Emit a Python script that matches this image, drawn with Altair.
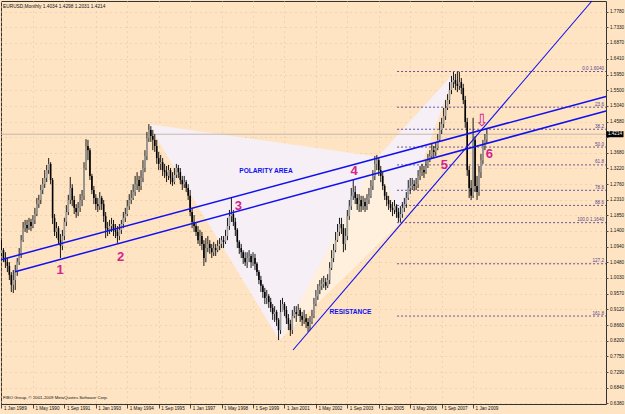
import json
import altair as alt
import pandas as pd

# ------------------------------------------------------------------ data
# monthly bars, month index 0 = Jan 1989
close = [
    1.084, 1.061, 1.049, 1.038, 1.012, 0.983, 0.997, 1.020, 1.049, 1.070,
    1.113, 1.148, 1.157, 1.148, 1.166, 1.154, 1.172, 1.189, 1.218, 1.230,
    1.259, 1.276, 1.294, 1.317, 1.335, 1.288, 1.178, 1.137, 1.148, 1.113,
    1.096, 1.125, 1.166, 1.195, 1.230, 1.265, 1.230, 1.207, 1.195, 1.207,
    1.230, 1.242, 1.323, 1.387, 1.375, 1.300, 1.259, 1.236, 1.218, 1.212,
    1.236, 1.218, 1.183, 1.148, 1.143, 1.154, 1.160, 1.143, 1.137, 1.125,
    1.143, 1.160, 1.178, 1.189, 1.212, 1.230, 1.236, 1.253, 1.276, 1.288,
    1.271, 1.294, 1.323, 1.358, 1.410, 1.434, 1.416, 1.405, 1.387, 1.352,
    1.335, 1.340, 1.317, 1.311, 1.300, 1.317, 1.294, 1.282, 1.303, 1.323,
    1.311, 1.288, 1.276, 1.282, 1.265, 1.242, 1.195, 1.166, 1.154, 1.137,
    1.113, 1.125, 1.102, 1.061, 1.090, 1.102, 1.090, 1.078, 1.090, 1.084,
    1.096, 1.102, 1.113, 1.108, 1.125, 1.154, 1.183, 1.189, 1.166, 1.143,
    1.108, 1.090, 1.078, 1.061, 1.049, 1.061, 1.067, 1.049, 1.061, 1.044,
    1.020, 0.997, 0.980, 0.962, 0.945, 0.950, 0.933, 0.916, 0.898, 0.904,
    0.881, 0.851, 0.904, 0.927, 0.910, 0.886, 0.869, 0.851, 0.892, 0.904,
    0.898, 0.910, 0.892, 0.881, 0.886, 0.875, 0.863, 0.875, 0.892, 0.927,
    0.950, 0.968, 0.980, 0.985, 0.991, 0.980, 0.997, 1.032, 1.061, 1.084,
    1.113, 1.137, 1.160, 1.148, 1.102, 1.125, 1.183, 1.212, 1.242, 1.253,
    1.236, 1.218, 1.230, 1.212, 1.224, 1.212, 1.230, 1.242, 1.271, 1.300,
    1.335, 1.346, 1.317, 1.300, 1.271, 1.242, 1.230, 1.218, 1.207, 1.201,
    1.212, 1.195, 1.178, 1.189, 1.207, 1.218, 1.236, 1.265, 1.271, 1.276,
    1.271, 1.276, 1.300, 1.311, 1.317, 1.311, 1.329, 1.346, 1.358, 1.375,
    1.370, 1.381, 1.405, 1.434, 1.451, 1.474, 1.498, 1.521, 1.550, 1.573,
    1.579, 1.568, 1.562, 1.573, 1.556, 1.521, 1.457, 1.317, 1.265, 1.242,
    1.405, 1.271, 1.253, 1.311, 1.346, 1.387, 1.405, 1.4214,
]
high = [
    1.113, 1.090, 1.078, 1.061, 1.049, 1.020, 1.026, 1.041, 1.061, 1.090,
    1.128, 1.166, 1.172, 1.172, 1.178, 1.175, 1.186, 1.207, 1.236, 1.245,
    1.274, 1.294, 1.317, 1.332, 1.352, 1.340, 1.294, 1.189, 1.166, 1.154,
    1.131, 1.143, 1.178, 1.215, 1.245, 1.297, 1.276, 1.242, 1.218, 1.224,
    1.247, 1.259, 1.340, 1.407, 1.405, 1.381, 1.306, 1.271, 1.247, 1.236,
    1.253, 1.242, 1.230, 1.195, 1.166, 1.172, 1.178, 1.172, 1.160, 1.154,
    1.160, 1.172, 1.195, 1.207, 1.230, 1.247, 1.259, 1.276, 1.300, 1.311,
    1.300, 1.317, 1.346, 1.375, 1.428, 1.451, 1.445, 1.434, 1.422, 1.405,
    1.370, 1.361, 1.352, 1.335, 1.329, 1.332, 1.323, 1.311, 1.323, 1.335,
    1.332, 1.323, 1.300, 1.300, 1.288, 1.276, 1.259, 1.207, 1.186, 1.166,
    1.154, 1.143, 1.137, 1.113, 1.119, 1.125, 1.113, 1.102, 1.108, 1.102,
    1.113, 1.119, 1.125, 1.125, 1.143, 1.178, 1.201, 1.236, 1.201, 1.178,
    1.148, 1.113, 1.102, 1.084, 1.078, 1.078, 1.084, 1.073, 1.078, 1.073,
    1.049, 1.026, 1.009, 0.985, 0.974, 0.968, 0.956, 0.945, 0.927, 0.921,
    0.910, 0.886, 0.939, 0.945, 0.933, 0.921, 0.898, 0.881, 0.910, 0.921,
    0.921, 0.927, 0.916, 0.904, 0.910, 0.898, 0.886, 0.892, 0.910, 0.945,
    0.968, 0.985, 0.997, 1.003, 1.009, 1.003, 1.014, 1.049, 1.084, 1.102,
    1.137, 1.160, 1.178, 1.178, 1.160, 1.148, 1.201, 1.230, 1.265, 1.288,
    1.271, 1.247, 1.247, 1.242, 1.242, 1.236, 1.247, 1.265, 1.288, 1.317,
    1.358, 1.361, 1.352, 1.329, 1.311, 1.276, 1.253, 1.242, 1.230, 1.224,
    1.230, 1.218, 1.207, 1.212, 1.224, 1.236, 1.253, 1.288, 1.294, 1.294,
    1.288, 1.294, 1.317, 1.329, 1.335, 1.329, 1.346, 1.364, 1.375, 1.393,
    1.387, 1.399, 1.422, 1.457, 1.469, 1.498, 1.521, 1.538, 1.573, 1.591,
    1.603, 1.597, 1.604, 1.603, 1.585, 1.568, 1.533, 1.469, 1.329, 1.288,
    1.469, 1.416, 1.300, 1.329, 1.364, 1.405, 1.422, 1.440,
]
low = [
    1.067, 1.049, 1.032, 1.020, 0.997, 0.962, 0.959, 0.968, 1.009, 1.041,
    1.061, 1.108, 1.137, 1.134, 1.143, 1.140, 1.148, 1.160, 1.183, 1.207,
    1.218, 1.247, 1.265, 1.282, 1.306, 1.276, 1.160, 1.125, 1.119, 1.102,
    1.061, 1.084, 1.113, 1.154, 1.186, 1.218, 1.212, 1.189, 1.178, 1.183,
    1.195, 1.212, 1.230, 1.317, 1.346, 1.288, 1.247, 1.218, 1.201, 1.195,
    1.201, 1.201, 1.166, 1.119, 1.125, 1.131, 1.137, 1.125, 1.119, 1.105,
    1.113, 1.131, 1.148, 1.166, 1.183, 1.201, 1.218, 1.230, 1.242, 1.259,
    1.253, 1.259, 1.282, 1.311, 1.346, 1.399, 1.399, 1.375, 1.370, 1.335,
    1.317, 1.317, 1.300, 1.294, 1.282, 1.288, 1.276, 1.271, 1.276, 1.294,
    1.294, 1.276, 1.259, 1.265, 1.253, 1.230, 1.183, 1.148, 1.137, 1.125,
    1.102, 1.096, 1.084, 1.038, 1.049, 1.078, 1.073, 1.061, 1.067, 1.067,
    1.078, 1.084, 1.090, 1.090, 1.102, 1.113, 1.143, 1.166, 1.154, 1.125,
    1.090, 1.073, 1.061, 1.044, 1.038, 1.032, 1.049, 1.032, 1.038, 1.026,
    1.009, 0.985, 0.962, 0.945, 0.927, 0.927, 0.916, 0.904, 0.881, 0.875,
    0.863, 0.822, 0.840, 0.904, 0.892, 0.869, 0.851, 0.834, 0.840, 0.886,
    0.875, 0.892, 0.875, 0.863, 0.869, 0.857, 0.846, 0.851, 0.869, 0.886,
    0.921, 0.939, 0.956, 0.968, 0.974, 0.968, 0.974, 0.985, 1.026, 1.049,
    1.078, 1.108, 1.125, 1.131, 1.078, 1.084, 1.113, 1.172, 1.201, 1.230,
    1.218, 1.201, 1.195, 1.195, 1.201, 1.195, 1.201, 1.218, 1.236, 1.259,
    1.288, 1.317, 1.300, 1.282, 1.259, 1.230, 1.212, 1.201, 1.195, 1.183,
    1.189, 1.178, 1.166, 1.164, 1.178, 1.195, 1.207, 1.230, 1.247, 1.259,
    1.259, 1.259, 1.265, 1.288, 1.300, 1.294, 1.306, 1.323, 1.340, 1.352,
    1.352, 1.358, 1.375, 1.399, 1.422, 1.440, 1.463, 1.492, 1.509, 1.538,
    1.556, 1.550, 1.544, 1.550, 1.538, 1.509, 1.440, 1.300, 1.236, 1.230,
    1.236, 1.253, 1.230, 1.242, 1.294, 1.335, 1.375, 1.393,
]
first_open = 1.075
last_price = 1.4214

x_tick_months = [0, 16, 32, 48, 64, 80, 96, 112, 128, 144, 160, 176, 192, 208, 224, 240]
x_tick_labels = ["1 Jan 1989", "1 May 1990", "1 Sep 1991", "1 Jan 1993", "1 May 1994",
                 "1 Sep 1995", "1 Jan 1997", "1 May 1998", "1 Sep 1999", "1 Jan 2001",
                 "1 May 2002", "1 Sep 2003", "1 Jan 2005", "1 May 2006", "1 Sep 2007",
                 "1 Jan 2009"]
y_tick_values = [1.7780, 1.7330, 1.6870, 1.6410, 1.5950, 1.5500, 1.5040, 1.4580, 1.4130,
                 1.3680, 1.3220, 1.2760, 1.2310, 1.1850, 1.1400, 1.0940, 1.0480, 1.0030,
                 0.9570, 0.9120, 0.8660, 0.8200, 0.7750, 0.7290, 0.6840, 0.6380]
y_hidden_label = 1.4130  # sits behind the current-price box

fib_levels = [0.0, 23.6, 38.2, 50.0, 61.8, 78.6, 88.6, 100.0, 127.2, 161.8]
fib_labels = ["0.0  1.6040", "23.6", "38.2", "50.0", "61.8", "78.6", "88.6",
              "100.0  1.1640", "127.2", "161.8"]
fib_top = 1.6040
fib_bottom = 1.1640
fib_start_month = 201.3

# harmonic pattern points (month index, price)
pt_X = (74.5, 1.451)
pt_A = (141.5, 0.822)
pt_B = (191.5, 1.356)
pt_C = (203.0, 1.164)
pt_D = (231.0, 1.604)

# trend lines: start month, start price, end month, end price, width
trend_m1 = [-0.25, 6.87, 148.35]
trend_p1 = [1.0561, 1.0212, 0.7933]
trend_m2 = [307.63, 307.63, 300.46]
trend_p2 = [1.5312, 1.4890, 1.8092]
trend_w = [1.5, 1.5, 1.1]

ann_text = ["1", "2", "3", "4", "5", "6"]
ann_m = [29.8, 60.6, 120.5, 179.5, 225.4, 248.3]
ann_p = [1.026, 1.065, 1.212, 1.313, 1.332, 1.364]
arrow_m, arrow_p = 244.5, 1.460

label_text = ["POLARITY AREA", "RESISTANCE"]
label_m = [134.6, 177.6]
label_p = [1.3143, 0.9025]

title_text = "EURUSD,Monthly  1.4034 1.4298 1.2031 1.4214"
copyright_text = "FIBO Group, \u00a9 2001-2009 MetaQuotes Software Corp."

# ------------------------------------------------------------------ layout
W, H = 605, 403
X_DOMAIN = [-0.254, 307.63]
Y_DOMAIN = [0.6361, 1.8092]
BG = "#FFE4C4"
FONT = "Liberation Sans"
PINK = "#D4238B"
BLUE = "#1010F0"
FIBC = "#54468C"

xs = alt.Scale(domain=X_DOMAIN, nice=False, zero=False)
ys = alt.Scale(domain=Y_DOMAIN, nice=False, zero=False)


def X(field, **kw):
    return alt.X(field, type="quantitative", scale=xs, axis=None, **kw)


def Y(field, **kw):
    return alt.Y(field, type="quantitative", scale=ys, axis=None, **kw)


def tri_df(p1, p2, p3):
    (x1, y1), (x2, y2), (x3, y3) = sorted([p1, p2, p3])
    ymid = y1 + (y3 - y1) * (x2 - x1) / (x3 - x1)
    return pd.DataFrame({"m": [x1, x2, x3], "a": [y1, y2, y3], "b": [y1, ymid, y3]})


layers = []

# axes + grid (an invisible layer that carries both axes)
label_expr = json.dumps(x_tick_labels) + "[round(datum.value / 16)]"
y_label_expr = ("abs(datum.value - %f) < 0.0005 ? '' : format(datum.value, '.4f')"
                % y_hidden_label)
axis_layer = alt.Chart(pd.DataFrame({"m": [0.0], "p": [1.0]})).mark_point(opacity=0).encode(
    x=alt.X("m:Q", scale=xs, axis=alt.Axis(
        values=x_tick_months, labelExpr=label_expr, title=None, orient="bottom",
        grid=True, gridColor="#E4C29C", gridDash=[1, 4], gridWidth=1,
        domain=False, ticks=True, tickSize=4, tickColor="#202020", tickWidth=0.8,
        labelAlign="left", labelPadding=-3, labelOffset=2, labelBaseline="top",
        labelFont=FONT, labelFontSize=4.6, labelColor="#111111",
        labelOverlap=False, labelFlush=False)),
    y=alt.Y("p:Q", scale=ys, axis=alt.Axis(
        values=y_tick_values, labelExpr=y_label_expr, title=None, orient="right",
        grid=True, gridColor="#E4C29C", gridDash=[1, 4], gridWidth=1,
        domain=False, ticks=True, tickSize=2, tickColor="#202020", tickWidth=0.8,
        labelPadding=1.5, labelFont=FONT, labelFontSize=4.6, labelColor="#111111",
        labelOverlap=False, labelFlush=False)),
)
layers.append(axis_layer)

# pattern triangles
for pts, col in [((pt_X, pt_A, pt_B), "#F6EFF6"),
                 ((pt_A, pt_B, pt_C), "#FFF0DD"),
                 ((pt_B, pt_C, pt_D), "#F6EFF6")]:
    layers.append(alt.Chart(tri_df(*pts)).mark_area(color=col, opacity=1, interpolate="linear")
                  .encode(x=X("m"), y=Y("a"), y2="b"))

# current price line
layers.append(alt.Chart(pd.DataFrame({"p": [last_price]})).mark_rule(color="#C4B8AE", strokeWidth=1)
              .encode(y=Y("p")))

# fibonacci levels
fib_df = pd.DataFrame({
    "lvl": fib_levels,
    "p": [fib_top - (fib_top - fib_bottom) * l / 100.0 for l in fib_levels],
    "txt": fib_labels,
})
fib_df["m"] = fib_start_month
fib_df["m2"] = X_DOMAIN[1]
layers.append(alt.Chart(fib_df).mark_rule(color=FIBC, strokeWidth=0.9, strokeDash=[2, 2])
              .encode(x=X("m"), x2="m2", y=Y("p")))
layers.append(alt.Chart(fib_df).mark_text(align="right", baseline="bottom", dx=-1, dy=-0.5,
                                          font=FONT, fontSize=4.6, color=FIBC)
              .encode(x=alt.value(W - 1), y=Y("p"), text="txt:N"))

# candles
bars = pd.DataFrame({"m": list(range(len(close))), "close": close, "high": high, "low": low})
bars["open"] = [first_open] + close[:-1]
layers.append(alt.Chart(bars).mark_rule(color="#000000", strokeWidth=0.9)
              .encode(x=X("m"), y=Y("low"), y2="high"))
layers.append(alt.Chart(bars).mark_rule(strokeWidth=1.6)
              .encode(x=X("m"), y=Y("open"), y2="close",
                      color=alt.condition("datum.close < datum.open",
                                          alt.value("#000000"), alt.value("#9A9A9A"))))

# trend lines
tl = pd.DataFrame({"m1": trend_m1, "p1": trend_p1, "m2": trend_m2, "p2": trend_p2, "w": trend_w})
layers.append(alt.Chart(tl).mark_rule(color=BLUE)
              .encode(x=X("m1"), y=Y("p1"), x2="m2", y2="p2",
                      strokeWidth=alt.StrokeWidth("w:Q", scale=None)))

# annotations
ann = pd.DataFrame({"m": ann_m, "p": ann_p, "t": ann_text})
layers.append(alt.Chart(ann).mark_text(font=FONT, fontSize=13, fontWeight="bold", color=PINK,
                                       align="center", baseline="middle")
              .encode(x=X("m"), y=Y("p"), text="t:N"))
layers.append(alt.Chart(pd.DataFrame({"m": [arrow_m], "p": [arrow_p], "t": ["\u21e9"]}))
              .mark_text(font="DejaVu Sans", fontSize=17, color=PINK, align="center", baseline="middle")
              .encode(x=X("m"), y=Y("p"), text="t:N"))
lab = pd.DataFrame({"m": label_m, "p": label_p, "t": label_text})
layers.append(alt.Chart(lab).mark_text(font=FONT, fontSize=6.6, fontWeight="bold", color=BLUE,
                                       align="center", baseline="middle")
              .encode(x=X("m"), y=Y("p"), text="t:N"))

# current price box on the axis
box = pd.DataFrame({"p": [last_price], "t": ["%.4f" % last_price]})
layers.append(alt.Chart(box).mark_rect(color="#000000")
              .encode(x=alt.value(W + 0.5), x2=alt.value(W + 17.5),
                      y=alt.Y("pa:Q", scale=ys, axis=None), y2="pb:Q")
              .transform_calculate(pa="datum.p + 0.0088", pb="datum.p - 0.0088"))
layers.append(alt.Chart(box).mark_text(font=FONT, fontSize=4.6, color="#FFFFFF",
                                       align="center", baseline="middle")
              .encode(x=alt.value(W + 9), y=Y("p"), text="t:N"))

# header / footer text
layers.append(alt.Chart(pd.DataFrame({"t": [title_text]}))
              .mark_text(font=FONT, fontSize=4.8, color="#111111", align="left", baseline="top")
              .encode(x=alt.value(2), y=alt.value(3), text="t:N"))
layers.append(alt.Chart(pd.DataFrame({"t": [copyright_text]}))
              .mark_text(font=FONT, fontSize=4.3, color="#111111", align="left", baseline="middle")
              .encode(x=alt.value(2), y=alt.value(H - 6), text="t:N"))

chart = alt.layer(*layers).resolve_axis(x="independent", y="independent").properties(
    width=W, height=H,
    padding={"left": 1, "top": 1, "right": 19, "bottom": 10},
    autosize=alt.AutoSizeParams(type="none"),
    background=BG,
).configure_view(stroke="#333333", strokeWidth=1)

chart.save("out.html", embed_options={"renderer": "svg", "actions": False})
